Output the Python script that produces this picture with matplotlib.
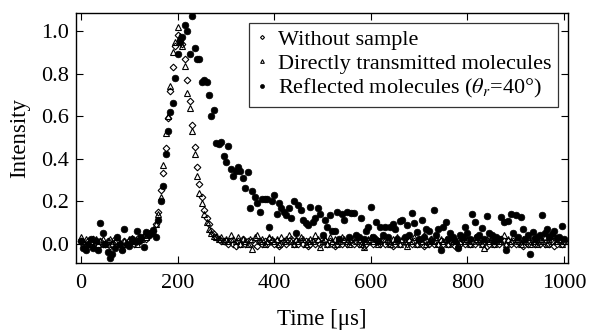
import numpy as np
import matplotlib
matplotlib.use('Agg')
import matplotlib.pyplot as plt

plt.rcParams['font.family'] = ['Liberation Serif', 'DejaVu Serif']
plt.rcParams['mathtext.fontset'] = 'stix'

# time axis, 5 us sampling
t = np.arange(0, 1001, 5)

# without sample (diamonds)
I_nosample = [
    0.01, 0.0, -0.01, 0.01, 0.0, 0.02, 0.0, -0.01, 0.01, 0.0,
    0.0, 0.01, -0.01, 0.0, 0.02, 0.01, 0.0, -0.01, 0.01, 0.0,
    0.01, 0.02, 0.0, 0.01, 0.03, 0.02, 0.03, 0.02, 0.04, 0.05,
    0.06, 0.09, 0.15, 0.25, 0.33, 0.45, 0.59, 0.72, 0.83, 0.93,
    0.98, 0.96, 0.94, 0.87, 0.77, 0.67, 0.56, 0.455, 0.36, 0.28,
    0.22, 0.16, 0.12, 0.09, 0.06, 0.045, 0.03, 0.02, 0.01, 0.01,
    0.01, 0.0, 0.01, 0.0, -0.01, 0.01, 0.0, 0.02, 0.0, 0.01,
    0.0, 0.01, 0.0, -0.01, 0.01, 0.0, 0.01, 0.0, 0.02, 0.01,
    0.0, 0.01, -0.01, 0.0, 0.01, 0.0, 0.01, 0.02, 0.0, 0.01,
    0.0, 0.01, 0.0, 0.01, -0.01, 0.0, 0.01, 0.0, 0.01, 0.0,
    0.02, 0.01, 0.0, 0.01, 0.0, -0.01, 0.0, 0.01, 0.0, 0.01,
    0.0, 0.01, 0.02, 0.0, 0.01, 0.0, 0.01, -0.01, 0.0, 0.01,
    0.01, 0.0, 0.02, 0.01, 0.0, 0.01, 0.0, 0.01, 0.0, -0.01,
    0.0, 0.01, 0.0, 0.01, 0.02, 0.0, 0.01, 0.0, 0.01, 0.0,
    0.01, 0.0, -0.01, 0.01, 0.0, 0.02, 0.0, 0.01, 0.0, 0.01,
    0.0, 0.01, 0.0, 0.01, 0.0, -0.01, 0.01, 0.0, 0.02, 0.0,
    0.01, 0.0, 0.01, 0.0, 0.01, 0.02, 0.0, 0.01, -0.01, 0.0,
    0.01, 0.0, 0.01, 0.0, 0.02, 0.01, 0.0, 0.01, 0.0, 0.01,
    0.0, 0.01, 0.0, -0.01, 0.01, 0.0, 0.01, 0.02, 0.0, 0.01,
    0.0, 0.01, 0.0, 0.01, 0.0, 0.01, -0.01, 0.0, 0.01, 0.0,
    0.01]

# directly transmitted (triangles)
I_direct = [
    0.03, 0.01, 0.02, 0.0, 0.01, -0.01, 0.02, 0.0, 0.01, 0.02,
    0.0, 0.01, 0.02, 0.0, 0.01, 0.03, 0.0, -0.02, 0.01, 0.0,
    0.02, 0.025, 0.01, 0.0, 0.03, 0.02, 0.04, 0.03, 0.05, 0.05,
    0.06, 0.09, 0.14, 0.22, 0.37, 0.52, 0.60, 0.74, 0.90, 0.95,
    1.02, 0.975, 0.93, 0.835, 0.71, 0.64, 0.53, 0.42, 0.32, 0.24,
    0.19, 0.14, 0.10, 0.07, 0.05, 0.035, 0.03, 0.02, 0.03, 0.01,
    0.02, 0.01, 0.04, 0.02, 0.01, 0.03, 0.0, 0.02, 0.01, 0.0,
    0.02, -0.027, 0.03, 0.04, 0.01, 0.02, 0.0, 0.01, 0.03, 0.02,
    0.01, 0.02, 0.0, 0.03, 0.01, 0.02, 0.04, 0.01, 0.0, 0.02,
    0.01, 0.03, 0.02, 0.0, 0.01, 0.02, 0.01, 0.04, 0.02, -0.018,
    0.01, 0.02, 0.0, 0.03, 0.01, 0.02, 0.0, 0.01, 0.03, 0.02,
    0.01, 0.0, 0.02, 0.03, 0.01, 0.02, 0.0, -0.015, 0.01, 0.02,
    0.03, 0.01, 0.02, 0.0, 0.01, 0.04, 0.02, 0.01, 0.0, 0.02,
    0.01, 0.03, 0.0, 0.02, 0.01, -0.01, 0.02, 0.01, 0.03, 0.0,
    0.02, 0.01, 0.04, 0.0, 0.01, 0.02, 0.01, 0.03, 0.0, 0.02,
    0.01, 0.02, 0.0, 0.03, 0.01, 0.02, 0.0, 0.01, 0.03, 0.01,
    0.02, 0.0, 0.01, 0.03, 0.02, 0.01, 0.0, -0.023, 0.02, 0.01,
    0.03, 0.0, 0.01, 0.02, 0.01, 0.04, 0.0, 0.02, 0.01, 0.03,
    0.02, 0.01, 0.0, 0.02, 0.01, 0.03, 0.0, 0.02, 0.01, 0.0,
    0.02, 0.01, 0.03, 0.0, 0.02, 0.01, 0.04, 0.01, 0.02, 0.0,
    0.01]

# reflected molecules (filled circles)
I_reflected = [
    0.01, -0.02, -0.03, 0.0, 0.02, -0.02, 0.01, -0.03, 0.095, 0.05,
    0.0, -0.04, -0.07, -0.05, -0.02, 0.03, 0.0, -0.03, 0.07, 0.0,
    -0.01, 0.02, 0.01, 0.06, 0.01, 0.03, -0.015, 0.055, 0.04, 0.048,
    0.064, 0.03, 0.11, 0.2, 0.27, 0.42, 0.53, 0.62, 0.66, 0.78,
    0.89, 0.95, 0.97, 1.03, 1.0, 0.89, 1.07, 0.92, 0.87, 0.87,
    0.76, 0.77, 0.76, 0.70, 0.60, 0.63, 0.475, 0.47, 0.48, 0.41,
    0.385, 0.46, 0.35, 0.32, 0.34, 0.36, 0.34, 0.31, 0.26, 0.335,
    0.165, 0.245, 0.22, 0.19, 0.15, 0.21, 0.21, 0.21, 0.08, 0.20,
    0.23, 0.14, 0.19, 0.165, 0.15, 0.135, 0.165, 0.12, 0.20, 0.05,
    0.18, 0.16, 0.11, 0.095, 0.087, 0.17, 0.10, 0.12, 0.165, 0.14,
    0.04, 0.11, 0.08, 0.134, 0.06, 0.06, 0.15, 0.02, 0.14, 0.11,
    0.15, 0.03, 0.145, 0.145, 0.04, 0.03, 0.12, 0.02, 0.06, 0.076,
    0.17, 0.03, 0.10, 0.01, 0.08, 0.04, 0.08, 0.03, 0.076, 0.09,
    0.07, 0.02, 0.105, 0.11, 0.03, 0.087, 0.04, 0.145, 0.095, 0.055,
    0.02, 0.11, 0.03, 0.07, 0.06, 0.01, 0.16, 0.04, 0.067, -0.03,
    0.08, 0.10, 0.02, 0.05, 0.03, 0.01, -0.02, 0.04, 0.03, 0.076,
    0.05, 0.02, 0.14, 0.10, 0.03, 0.04, 0.075, 0.02, 0.13, 0.05,
    0.04, 0.01, 0.03, 0.02, 0.126, 0.10, -0.03, 0.107, 0.14, 0.05,
    0.134, 0.03, 0.126, 0.067, 0.02, 0.04, -0.05, 0.055, 0.02, 0.03,
    0.04, 0.134, 0.048, 0.067, 0.03, 0.045, 0.06, 0.025, 0.03, 0.082,
    0.02]

fig = plt.figure(figsize=(5.92, 3.35), dpi=100)
ax = fig.add_axes([0.1284, 0.214, 0.8316, 0.748])

ax.plot(t, I_nosample, ls='none', marker='D', ms=3.4, mfc='white', mec='k', mew=0.8,
        label='Without sample')
ax.plot(t, I_direct, ls='none', marker='^', ms=4.4, mfc='none', mec='k', mew=0.8,
        label='Directly transmitted molecules')
ax.plot(t, I_reflected, ls='none', marker='o', ms=4.8, mfc='k', mec='k', mew=0.5,
        label=r'Reflected molecules ($\theta_r$=40°)')

ax.set_xlim(-10.4, 1009)
ax.set_ylim(-0.093, 1.086)
ax.set_xticks([0, 200, 400, 600, 800, 1000])
ax.set_yticks([0.0, 0.2, 0.4, 0.6, 0.8, 1.0])
ax.set_yticklabels(['0.0', '0.2', '0.4', '0.6', '0.8', '1.0'])
ax.tick_params(direction='in', top=True, right=True, length=5, width=0.8,
               labelsize=16, pad=5)
ax.tick_params(axis='x', pad=8)
for s in ax.spines.values():
    s.set_linewidth(1.0)

ax.set_xlabel('Time [μs]', fontsize=16.5, labelpad=11)
ax.set_ylabel('Intensity', fontsize=16.5, labelpad=8)

leg = ax.legend(loc='upper right', bbox_to_anchor=(0.98, 0.96), fontsize=16,
                markerscale=0.6, handlelength=0.5, handletextpad=0.5,
                borderpad=0.3, labelspacing=0.15, frameon=True, fancybox=False,
                edgecolor='k', borderaxespad=0)
leg.get_frame().set_linewidth(0.9)

fig.savefig('out.png', dpi=100)
